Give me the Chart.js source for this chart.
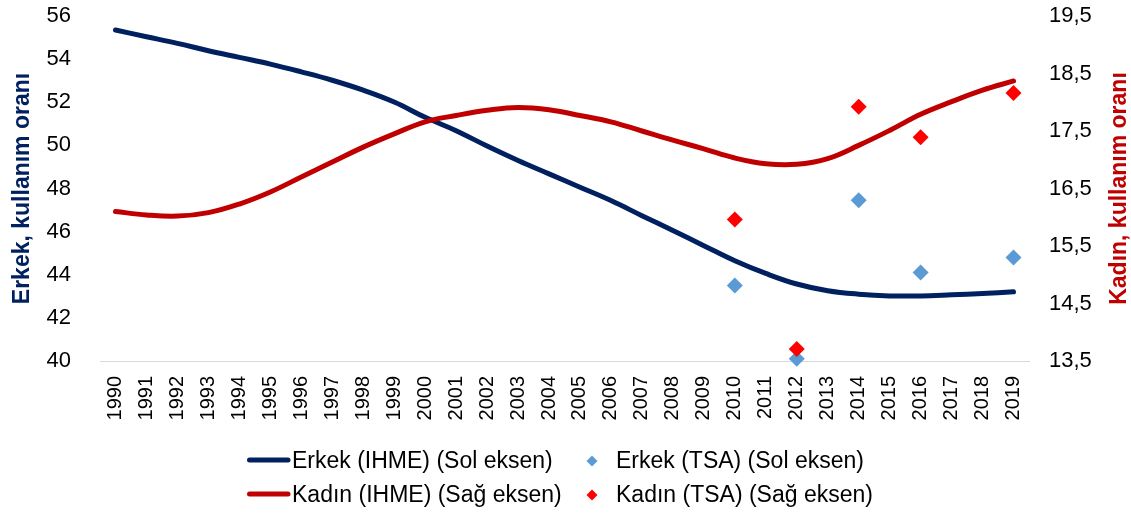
<!DOCTYPE html>
<html>
<head>
<meta charset="utf-8">
<script src="https://cdn.jsdelivr.net/npm/chart.js@4/dist/chart.umd.min.js"></script>
<style>
html,body{margin:0;padding:0;background:#fff;}
#wrap{width:1131px;height:516px;position:relative;}
</style>
</head>
<body>
<div id="wrap"><canvas id="c" width="1131" height="516"></canvas></div>
<script>
const years = ['1990','1991','1992','1993','1994','1995','1996','1997','1998','1999',
  '2000','2001','2002','2003','2004','2005','2006','2007','2008','2009',
  '2010','2011','2012','2013','2014','2015','2016','2017','2018','2019'];

const erkekIHME = [55.35, 55.04, 54.73, 54.39, 54.08, 53.77, 53.41, 53.02, 52.56, 52.01,
  51.30, 50.68, 49.97, 49.30, 48.68, 48.06, 47.44, 46.74, 46.05, 45.35,
  44.65, 44.06, 43.57, 43.26, 43.10, 43.02, 43.02, 43.07, 43.13, 43.21];

const kadinIHME = [16.10, 16.04, 16.02, 16.08, 16.23, 16.44, 16.70, 16.96, 17.22, 17.45,
  17.66, 17.77, 17.86, 17.91, 17.87, 17.77, 17.66, 17.50, 17.34, 17.19,
  17.03, 16.93, 16.92, 17.02, 17.25, 17.51, 17.79, 18.01, 18.21, 18.37];

const erkekTSA = [null,null,null,null,null,null,null,null,null,null,
  null,null,null,null,null,null,null,null,null,null,
  43.5, null, 40.1, null, 47.45, null, 44.1, null, null, 44.8];

const kadinTSA = [null,null,null,null,null,null,null,null,null,null,
  null,null,null,null,null,null,null,null,null,null,
  15.96, null, 13.71, null, 17.92, null, 17.39, null, null, 18.16];

const leftTicks = [40, 42, 44, 46, 48, 50, 52, 54, 56];
const rightTicks = [13.5, 14.5, 15.5, 16.5, 17.5, 18.5, 19.5];

const seriesLabels = ['Erkek (IHME) (Sol eksen)', 'Erkek (TSA) (Sol eksen)',
  'Kadın (IHME) (Sağ eksen)', 'Kadın (TSA) (Sağ eksen)'];
const leftTitle = 'Erkek, kullanım oranı';
const rightTitle = 'Kadın, kullanım oranı';

const FONT = "'Liberation Sans', Arial, sans-serif";
const NAVY = '#002060';
const DARKRED = '#C00000';
const LIGHTBLUE = '#5B9BD5';
const RED = '#FF0000';

Chart.defaults.font.family = FONT;
Chart.defaults.color = '#000000';

const legendPlugin = {
  id: 'customLegend',
  afterDraw(chart) {
    const ctx = chart.ctx;
    const ds = chart.data.datasets;
    const slots = [
      {i: 0, x: 247, y: 461, kind: 'line', tx: 292},
      {i: 1, x: 592, y: 461, kind: 'diamond', tx: 616},
      {i: 2, x: 247, y: 495, kind: 'line', tx: 292},
      {i: 3, x: 592, y: 495, kind: 'diamond', tx: 616}
    ];
    ctx.save();
    slots.forEach(s => {
      const d = ds[s.i];
      if (s.kind === 'line') {
        ctx.strokeStyle = d.borderColor;
        ctx.lineWidth = 5;
        ctx.lineCap = 'round';
        ctx.beginPath();
        ctx.moveTo(s.x + 2.5, s.y - 1);
        ctx.lineTo(s.x + 41, s.y - 1);
        ctx.stroke();
      } else {
        const r = 5.5;
        ctx.fillStyle = d.pointBackgroundColor;
        ctx.beginPath();
        ctx.moveTo(s.x - r, s.y);
        ctx.lineTo(s.x, s.y - r);
        ctx.lineTo(s.x + r, s.y);
        ctx.lineTo(s.x, s.y + r);
        ctx.closePath();
        ctx.fill();
      }
      ctx.fillStyle = '#000000';
      ctx.font = '23px ' + FONT;
      ctx.textAlign = 'left';
      ctx.textBaseline = 'middle';
      ctx.fillText(d.label, s.tx, s.y + 1);
    });
    ctx.restore();
  }
};

const rightTitlePlugin = {
  id: 'rightTitle',
  afterDraw(chart) {
    const ctx = chart.ctx;
    const a = chart.chartArea;
    ctx.save();
    ctx.translate(1120, (a.top + a.bottom) / 2);
    ctx.rotate(-Math.PI / 2);
    ctx.fillStyle = DARKRED;
    ctx.font = 'bold 23px ' + FONT;
    ctx.textAlign = 'center';
    ctx.textBaseline = 'middle';
    ctx.fillText(rightTitle, 0, 0);
    ctx.restore();
  }
};

new Chart(document.getElementById('c'), {
  type: 'line',
  data: {
    labels: years,
    datasets: [
      {
        label: seriesLabels[0], data: erkekIHME, yAxisID: 'y',
        borderColor: NAVY, backgroundColor: NAVY, borderWidth: 5,
        pointRadius: 0, tension: 0.4, borderCapStyle: 'round', order: 3
      },
      {
        label: seriesLabels[1], data: erkekTSA, yAxisID: 'y', showLine: false,
        pointStyle: 'rectRot', pointRadius: 8, pointBorderWidth: 0,
        pointBackgroundColor: LIGHTBLUE, borderColor: LIGHTBLUE, backgroundColor: LIGHTBLUE,
        clip: false, order: 1
      },
      {
        label: seriesLabels[2], data: kadinIHME, yAxisID: 'y1',
        borderColor: DARKRED, backgroundColor: DARKRED, borderWidth: 5,
        pointRadius: 0, tension: 0.4, borderCapStyle: 'round', order: 2
      },
      {
        label: seriesLabels[3], data: kadinTSA, yAxisID: 'y1', showLine: false,
        pointStyle: 'rectRot', pointRadius: 8, pointBorderWidth: 0,
        pointBackgroundColor: RED, borderColor: RED, backgroundColor: RED,
        clip: false, order: 0
      }
    ]
  },
  options: {
    responsive: false,
    animation: false,
    layout: { padding: { top: 16, bottom: 75, left: 0, right: 0 } },
    plugins: {
      legend: { display: false },
      tooltip: { enabled: false }
    },
    scales: {
      x: {
        offset: true,
        grid: { display: false, drawTicks: false },
        border: { display: true, color: '#D9D9D9', width: 1 },
        ticks: {
          autoSkip: false, maxRotation: 90, minRotation: 90, padding: 15,
          font: { size: 20 }, color: '#000000'
        },
        afterFit(scale) { scale.height = 80; }
      },
      y: {
        position: 'left',
        min: 40, max: 56,
        grid: { display: false, drawTicks: false },
        border: { display: false },
        ticks: { padding: 29, font: { size: 22 }, color: '#000000' },
        afterBuildTicks(scale) { scale.ticks = leftTicks.map(v => ({ value: v })); },
        title: {
          display: true, text: leftTitle, color: NAVY,
          font: { size: 23, weight: 'bold' }, padding: { top: 9, bottom: 0 }
        },
        afterFit(scale) { scale.width = 100; scale.paddingTop = 0; scale.paddingBottom = 0; }
      },
      y1: {
        position: 'right',
        min: 13.5, max: 19.5,
        grid: { display: false, drawTicks: false },
        border: { display: false },
        ticks: {
          padding: 20, font: { size: 22 }, color: '#000000',
          callback: v => v.toFixed(1).replace('.', ',')
        },
        afterBuildTicks(scale) { scale.ticks = rightTicks.map(v => ({ value: v })); },
        afterFit(scale) { scale.width = 102; scale.paddingTop = 0; scale.paddingBottom = 0; }
      }
    }
  },
  plugins: [legendPlugin, rightTitlePlugin]
});
</script>
</body>
</html>
